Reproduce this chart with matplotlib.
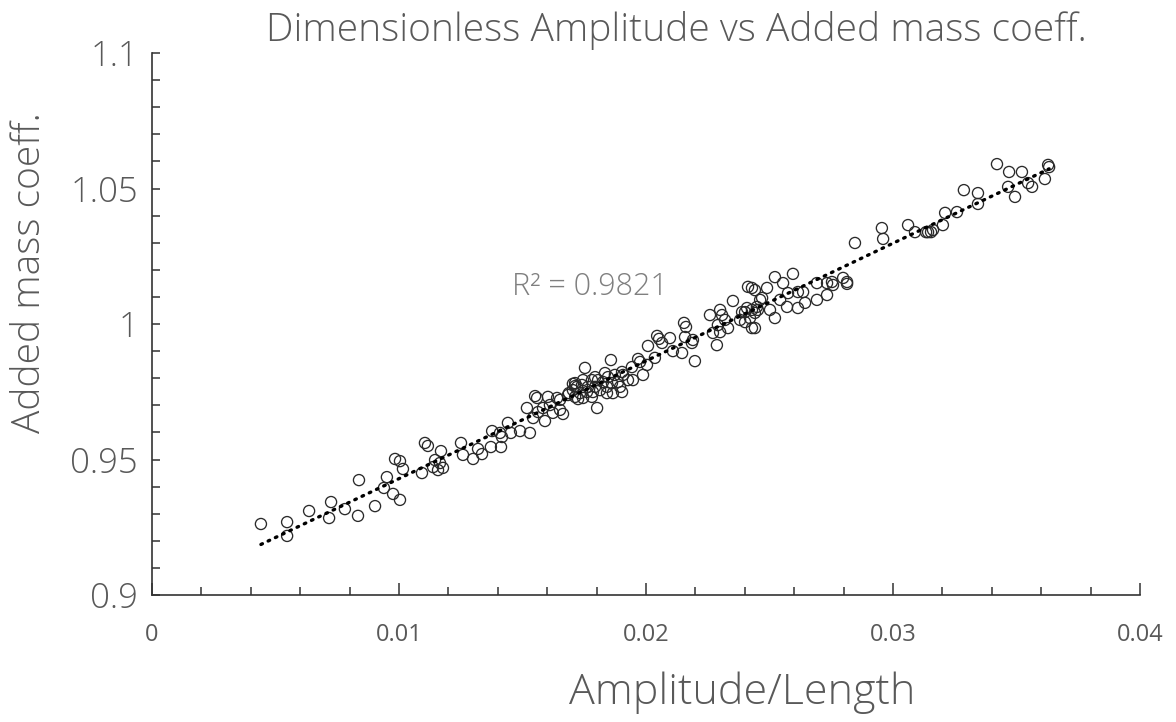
import numpy as np
import matplotlib
matplotlib.use("Agg")
import matplotlib.pyplot as plt
from matplotlib.ticker import MultipleLocator, FuncFormatter

# Amplitude/Length ratio and the added mass coefficient for each run
amp_len = [
    0.00441, 0.00547, 0.00547, 0.00636, 0.00725, 0.00717, 0.00781, 0.00838, 0.00834, 0.00903,
    0.00951, 0.00939, 0.00976, 0.01004, 0.00984, 0.01004, 0.01016,
    0.01105, 0.01117, 0.01093, 0.01138, 0.01146, 0.01166, 0.01170, 0.01178, 0.01158,
    0.01251, 0.01259, 0.01300, 0.01320, 0.01336, 0.01372, 0.01377, 0.01409, 0.01417, 0.01413,
    0.01441, 0.01453, 0.01490, 0.01530, 0.01518, 0.01551, 0.01559, 0.01543, 0.01563, 0.01591,
    0.01603, 0.01640, 0.01623, 0.01652, 0.01664, 0.01688, 0.01704, 0.01713, 0.01713, 0.01725,
    0.01611, 0.01583,
    0.01753, 0.01858, 0.01968, 0.01976, 0.02004, 0.01943, 0.01903, 0.01907, 0.01834, 0.01846,
    0.01874, 0.01988, 0.01947, 0.01794, 0.01806, 0.01781, 0.01745, 0.01713, 0.01741, 0.01721,
    0.01765, 0.01794, 0.01826, 0.01862, 0.01887, 0.01927, 0.01842, 0.01895, 0.01704, 0.01733,
    0.01761, 0.01785, 0.01814, 0.01842, 0.01684, 0.01745, 0.01781, 0.01866, 0.01903, 0.01802,
    0.01652,
    0.02154, 0.02162, 0.02045, 0.02053, 0.02097, 0.02065, 0.02158, 0.02186, 0.02008, 0.02109,
    0.02146, 0.02036, 0.02198, 0.02190,
    0.02522, 0.02595, 0.02413, 0.02429, 0.02441, 0.02490, 0.02555, 0.02575, 0.02615, 0.02636,
    0.02692, 0.02733, 0.02753, 0.02757, 0.02733, 0.02798, 0.02814, 0.02814, 0.02352, 0.02470,
    0.02462, 0.02449, 0.02502, 0.02543, 0.02571, 0.02615, 0.02644, 0.02692, 0.02409, 0.02401,
    0.02389, 0.02429, 0.02453, 0.02441, 0.02421, 0.02381, 0.02401, 0.02522, 0.02429, 0.02441,
    0.02300, 0.02308, 0.02259, 0.02320, 0.02291, 0.02332, 0.02300, 0.02271, 0.02287,
    0.02846, 0.02955, 0.02960, 0.03061, 0.03089, 0.03134, 0.03142, 0.03154, 0.03162, 0.03202,
    0.03211, 0.03259, 0.03287, 0.03344, 0.03344,
    0.03421, 0.03470, 0.03466, 0.03494, 0.03522, 0.03547, 0.03563, 0.03615, 0.03628, 0.03632,
]

added_mass = [
    0.9262, 0.9269, 0.9218, 0.9310, 0.9343, 0.9284, 0.9317, 0.9424, 0.9292, 0.9328,
    0.9435, 0.9395, 0.9373, 0.9351, 0.9502, 0.9494, 0.9465,
    0.9561, 0.9550, 0.9450, 0.9472, 0.9498, 0.9487, 0.9531, 0.9469, 0.9461,
    0.9561, 0.9517, 0.9502, 0.9539, 0.9520, 0.9546, 0.9605, 0.9598, 0.9583, 0.9546,
    0.9635, 0.9598, 0.9605, 0.9598, 0.9690, 0.9734, 0.9727, 0.9653, 0.9675, 0.9642,
    0.9731, 0.9727, 0.9672, 0.9683, 0.9668, 0.9745, 0.9779, 0.9771, 0.9731, 0.9723,
    0.9701, 0.9690,
    0.9838, 0.9867, 0.9871, 0.9860, 0.9849, 0.9841, 0.9823, 0.9812, 0.9819, 0.9804,
    0.9812, 0.9812, 0.9793, 0.9804, 0.9793, 0.9793, 0.9793, 0.9782, 0.9775, 0.9768,
    0.9768, 0.9768, 0.9786, 0.9782, 0.9786, 0.9793, 0.9768, 0.9768, 0.9756, 0.9745,
    0.9749, 0.9749, 0.9756, 0.9745, 0.9738, 0.9727, 0.9731, 0.9745, 0.9749, 0.9690,
    0.9720,
    1.0004, 0.9989, 0.9956, 0.9945, 0.9948, 0.9930, 0.9952, 0.9930, 0.9919, 0.9900,
    0.9893, 0.9875, 0.9863, 0.9941,
    1.0173, 1.0185, 1.0137, 1.0133, 1.0125, 1.0133, 1.0151, 1.0114, 1.0118, 1.0118,
    1.0151, 1.0151, 1.0155, 1.0144, 1.0107, 1.0170, 1.0155, 1.0148, 1.0085, 1.0096,
    1.0089, 1.0063, 1.0052, 1.0089, 1.0063, 1.0059, 1.0078, 1.0089, 1.0059, 1.0044,
    1.0044, 1.0052, 1.0052, 1.0041, 1.0022, 1.0015, 1.0007, 1.0022, 0.9985, 0.9985,
    1.0052, 1.0033, 1.0033, 1.0015, 0.9996, 0.9985, 0.9970, 0.9967, 0.9922,
    1.0299, 1.0354, 1.0314, 1.0365, 1.0339, 1.0339, 1.0339, 1.0339, 1.0347, 1.0365,
    1.0410, 1.0413, 1.0494, 1.0483, 1.0443,
    1.0590, 1.0561, 1.0506, 1.0469, 1.0561, 1.0520, 1.0506, 1.0535, 1.0587, 1.0579,
]

r_squared_text = "R\u00b2 = 0.9821"
title_text = "Dimensionless Amplitude vs Added mass coeff."
x_label = "Amplitude/Length"
y_label = "Added mass coeff."

GRAY = "#595959"
FONT = ["Open Sans", "DejaVu Sans"]
plt.rcParams["font.family"] = FONT

x = np.asarray(amp_len)
y = np.asarray(added_mass)

fig = plt.figure(figsize=(11.76, 7.22), dpi=100)
ax = fig.add_axes([152 / 1176, 127 / 722, 988 / 1176, 542 / 722])

ax.scatter(x, y, s=64, facecolors="none", edgecolors="#2a2a2a", linewidths=0.95, zorder=3)

# linear trendline
slope, intercept = np.polyfit(x, y, 1)
xt = np.linspace(x.min(), x.max(), 200)
ax.plot(xt, slope * xt + intercept, color="black", linewidth=2.4,
        linestyle=(0, (0.5, 1.9)), dash_capstyle="round", zorder=4)

ax.set_xlim(0, 0.04)
ax.set_ylim(0.9, 1.1)

ax.xaxis.set_major_locator(MultipleLocator(0.01))
ax.xaxis.set_minor_locator(MultipleLocator(0.002))
ax.yaxis.set_major_locator(MultipleLocator(0.05))
ax.yaxis.set_minor_locator(MultipleLocator(0.01))

fmt = FuncFormatter(lambda v, p: f"{v:.3f}".rstrip("0").rstrip(".") if abs(v) > 1e-12 else "0")
ax.xaxis.set_major_formatter(fmt)
ax.yaxis.set_major_formatter(fmt)

for side in ("top", "right"):
    ax.spines[side].set_visible(False)
for side in ("left", "bottom"):
    ax.spines[side].set_color("#333333")
    ax.spines[side].set_linewidth(1.2)

ax.tick_params(axis="x", which="major", direction="in", length=9, width=1.1,
               color="#333333", labelsize=17, labelcolor=GRAY, pad=20)
ax.tick_params(axis="x", which="minor", direction="in", length=6, width=1.1, color="#333333")
ax.tick_params(axis="y", which="both", direction="in", length=6, width=1.1,
               color="#333333", labelsize=25, labelcolor=GRAY, pad=10)
for lab in ax.get_yticklabels():
    lab.set_fontweight("light")

ax.text(0.01457, 1.0137, r_squared_text, fontsize=22, color="#7f7f7f",
        ha="left", va="center", fontweight="light")

fig.text(676 / 1176, 1 - 30 / 722, title_text, fontsize=28, color=GRAY,
         ha="center", va="center", fontweight="light")
fig.text(742 / 1176, 1 - 693 / 722, x_label, fontsize=31, color=GRAY,
         ha="center", va="center", fontweight="light")
fig.text(30 / 1176, 1 - 273 / 722, y_label, fontsize=28, color=GRAY,
         ha="center", va="center", rotation=90, fontweight="light")

fig.savefig("out.png", dpi=100, facecolor="white")
